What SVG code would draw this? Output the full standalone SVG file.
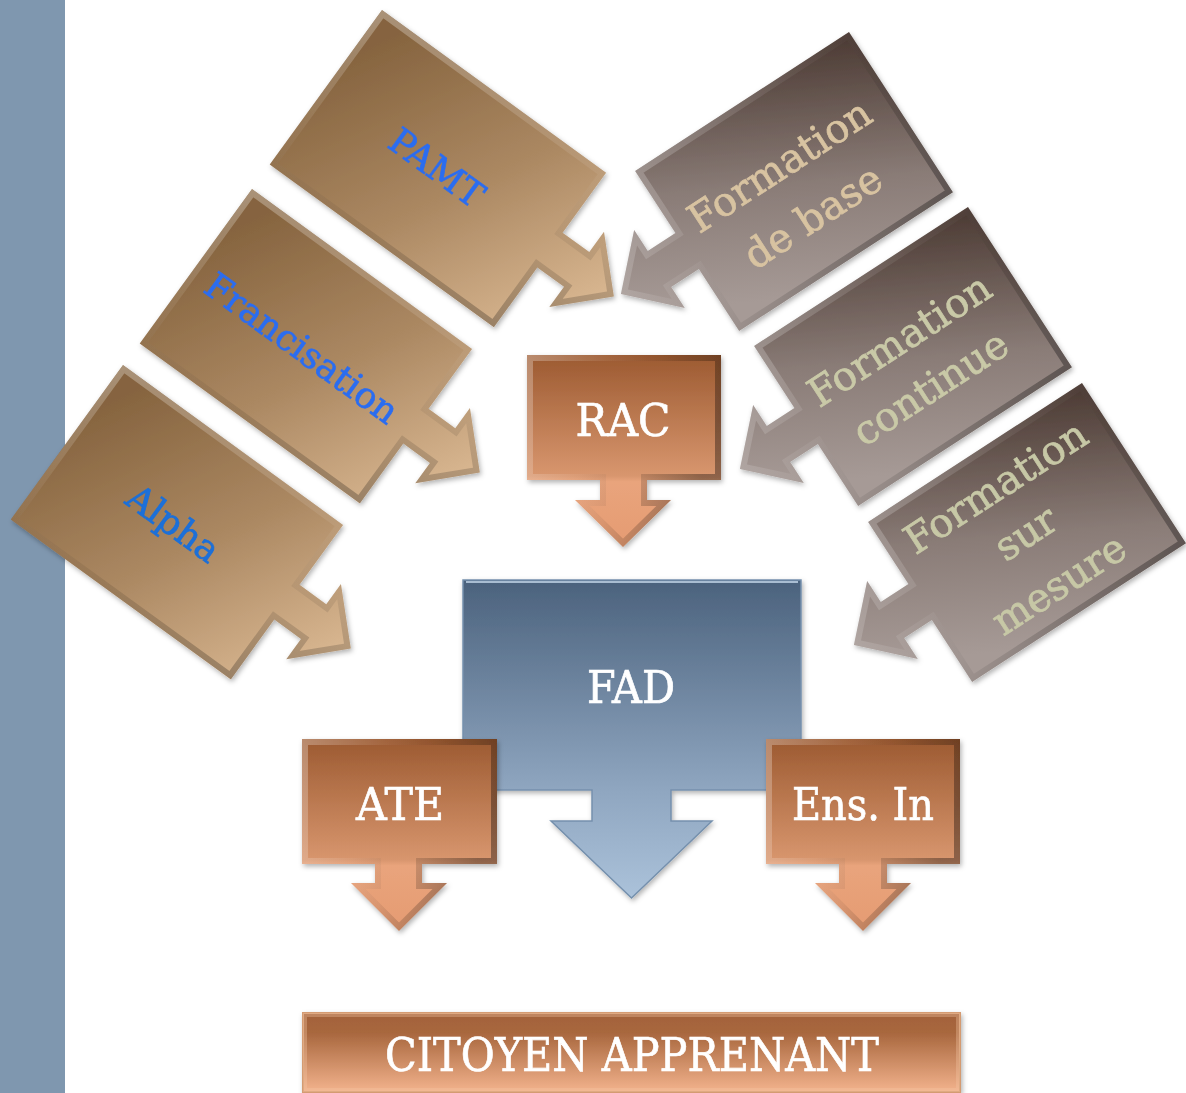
<svg xmlns="http://www.w3.org/2000/svg" width="1186" height="1093" viewBox="0 0 1186 1093">
<defs>
<style>
.t{font-family:'DejaVu Serif','Liberation Serif',serif;text-anchor:middle;stroke-width:0.7px}
.tl{font-size:36px}
.tr{font-size:40px}
.th{font-size:44px;fill:#ffffff;stroke:#ffffff}
.bev{fill:none;stroke:url(#bevel);stroke-width:12}
.bevh{fill:none;stroke:url(#bevelH);stroke-width:12}
</style>
<linearGradient id="tan" x1="0" y1="0.3" x2="1" y2="0.6">
<stop offset="0" stop-color="#86643f"/><stop offset="0.5" stop-color="#ab8862"/><stop offset="1" stop-color="#dcba94"/>
</linearGradient>
<linearGradient id="gray" x1="0.25" y1="0.85" x2="1" y2="0.05">
<stop offset="0" stop-color="#a69a96"/><stop offset="0.45" stop-color="#8a7c77"/><stop offset="1" stop-color="#4e3d36"/>
</linearGradient>
<linearGradient id="org" x1="0" y1="0" x2="0" y2="1">
<stop offset="0" stop-color="#9c5a31"/><stop offset="0.63" stop-color="#d8966e"/><stop offset="0.66" stop-color="#e9a47c"/><stop offset="1" stop-color="#e59b72"/>
</linearGradient>
<linearGradient id="blue" x1="0" y1="0" x2="0" y2="1">
<stop offset="0" stop-color="#4b627d"/><stop offset="0.66" stop-color="#8fa6c0"/><stop offset="1" stop-color="#abc2da"/>
</linearGradient>
<linearGradient id="cit" x1="0" y1="0" x2="0" y2="1">
<stop offset="0" stop-color="#a3623a"/><stop offset="0.25" stop-color="#a8673e"/><stop offset="1" stop-color="#f3b38d"/>
</linearGradient>
<linearGradient id="bevel" x1="0" y1="0" x2="1" y2="1">
<stop offset="0" stop-color="#fff" stop-opacity="0.3"/><stop offset="0.4" stop-color="#fff" stop-opacity="0.06"/><stop offset="0.6" stop-color="#000" stop-opacity="0.06"/><stop offset="1" stop-color="#000" stop-opacity="0.35"/>
</linearGradient>
<linearGradient id="bevelH" x1="0" y1="0" x2="1" y2="0.3">
<stop offset="0" stop-color="#fff" stop-opacity="0.3"/><stop offset="0.4" stop-color="#fff" stop-opacity="0.06"/><stop offset="0.6" stop-color="#000" stop-opacity="0.06"/><stop offset="1" stop-color="#000" stop-opacity="0.35"/>
</linearGradient>
<filter id="sh" x="-10%" y="-10%" width="125%" height="125%">
<feDropShadow dx="1.5" dy="2.5" stdDeviation="2.5" flood-color="#000" flood-opacity="0.3"/>
</filter>
<path id="pL277" d="M0,0H277V74H310V49L356,95.5L310,142V117H277V191H0Z"/>
<path id="pL272" d="M0,0H272V74H305V49L351,95.5L305,142V117H272V191H0Z"/>
<path id="pR" d="M0,0H-255V74H-288V49L-334,95.5L-288,142V117H-255V191H0Z"/>
<path id="pRAC" d="M527,355H721V480H647V500H671L623,547L575,500H600V480H527Z"/>
<path id="pFAD" d="M463,580H801V790H671V821H712L631.5,898L551,821H592V790H463Z"/>
<path id="pATE" d="M302,739H497V864H422V883H447L399,931L351,883H375V864H302Z"/>
<path id="pENS" d="M766,739H960V864H887V883H911L863,931L815,883H839V864H766Z"/>
<clipPath id="cL277"><use href="#pL277"/></clipPath>
<clipPath id="cL272"><use href="#pL272"/></clipPath>
<clipPath id="cR"><use href="#pR"/></clipPath>
<clipPath id="cRAC"><use href="#pRAC"/></clipPath>
<clipPath id="cATE"><use href="#pATE"/></clipPath>
<clipPath id="cENS"><use href="#pENS"/></clipPath>
<clipPath id="cCIT"><rect x="303" y="1013" width="657" height="79"/></clipPath>
</defs>

<rect x="0" y="0" width="1186" height="1093" fill="#ffffff"/>
<rect id="sidebar" x="0" y="0" width="65" height="1093" fill="#7f97af"/>

<g id="connectors"></g>

<g id="node-pamt" filter="url(#sh)">
<g transform="translate(382,10) rotate(36)">
<use href="#pL277" fill="url(#tan)"/>
<use href="#pL277" class="bev" clip-path="url(#cL277)"/>
<text class="t tl" x="137" y="108" fill="#2c6df0" stroke="#2c6df0">PAMT</text>
</g>
</g>

<g id="node-francisation" filter="url(#sh)">
<g transform="translate(252,189) rotate(36)">
<use href="#pL272" fill="url(#tan)"/>
<use href="#pL272" class="bev" clip-path="url(#cL272)"/>
<text class="t tl" x="134" y="112" fill="#2c6df0" stroke="#2c6df0">Francisation</text>
</g>
</g>

<g id="node-alpha" filter="url(#sh)">
<g transform="translate(123,365) rotate(36)">
<use href="#pL272" fill="url(#tan)"/>
<use href="#pL272" class="bev" clip-path="url(#cL272)"/>
<text class="t tl" x="134" y="111" fill="#1b6fd9" stroke="#1b6fd9">Alpha</text>
</g>
</g>

<g id="node-formation-base" filter="url(#sh)">
<g transform="translate(849,32) rotate(-33)">
<use href="#pR" fill="url(#gray)"/>
<use href="#pR" class="bev" clip-path="url(#cR)"/>
<text class="t tr" fill="#d8c3a1" stroke="#d8c3a1"><tspan x="-131" y="88">Formation</tspan><tspan x="-131" y="149">de base</tspan></text>
</g>
</g>

<g id="node-formation-continue" filter="url(#sh)">
<g transform="translate(968,207) rotate(-33)">
<use href="#pR" fill="url(#gray)"/>
<use href="#pR" class="bev" clip-path="url(#cR)"/>
<text class="t tr" fill="#c9c9a7" stroke="#c9c9a7"><tspan x="-130" y="88">Formation</tspan><tspan x="-130" y="145">continue</tspan></text>
</g>
</g>

<g id="node-formation-sur-mesure" filter="url(#sh)">
<g transform="translate(1082,383) rotate(-33)">
<use href="#pR" fill="url(#gray)"/>
<use href="#pR" class="bev" clip-path="url(#cR)"/>
<text class="t tr" fill="#c7c8a6" stroke="#c7c8a6"><tspan x="-129" y="54">Formation</tspan><tspan x="-129" y="109">sur</tspan><tspan x="-129" y="170">mesure</tspan></text>
</g>
</g>

<g id="node-rac" filter="url(#sh)">
<use href="#pRAC" fill="url(#org)"/>
<use href="#pRAC" class="bevh" clip-path="url(#cRAC)"/>
<text class="t th" x="623" y="436" textLength="95" lengthAdjust="spacingAndGlyphs">RAC</text>
</g>

<g id="node-fad" filter="url(#sh)">
<use href="#pFAD" fill="url(#blue)" stroke="#7590ad" stroke-width="1.5"/>
<line x1="466" y1="582" x2="798" y2="582" stroke="#a9bdd2" stroke-width="2"/>
<text class="t th" x="631" y="703" textLength="88" lengthAdjust="spacingAndGlyphs">FAD</text>
</g>

<g id="node-ate" filter="url(#sh)">
<use href="#pATE" fill="url(#org)"/>
<use href="#pATE" class="bevh" clip-path="url(#cATE)"/>
<text class="t th" x="400" y="820" textLength="88" lengthAdjust="spacingAndGlyphs">ATE</text>
</g>

<g id="node-ens-in" filter="url(#sh)">
<use href="#pENS" fill="url(#org)"/>
<use href="#pENS" class="bevh" clip-path="url(#cENS)"/>
<text class="t th" x="863" y="820" textLength="142" lengthAdjust="spacingAndGlyphs">Ens. In</text>
</g>

<g id="node-citoyen" filter="url(#sh)">
<rect x="303" y="1013" width="657" height="79" fill="url(#cit)" stroke="#d49b72" stroke-width="2"/>
<rect x="303" y="1013" width="657" height="79" fill="none" stroke="#f4c6a4" stroke-opacity="0.35" stroke-width="8" clip-path="url(#cCIT)"/>
<text class="t th" x="632" y="1071" style="font-size:47px" textLength="494" lengthAdjust="spacingAndGlyphs">CITOYEN APPRENANT</text>
</g>
</svg>
